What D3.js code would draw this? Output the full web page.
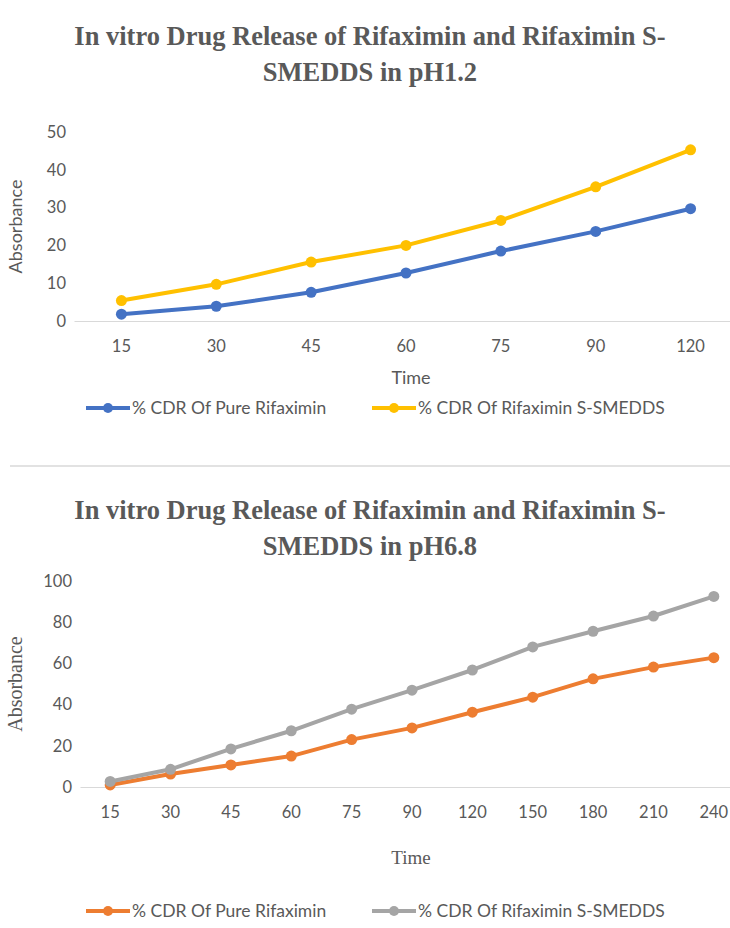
<!DOCTYPE html>
<meta charset="utf-8">
<style>
body { margin: 0; background: #fff; }
svg { display: block; }
.title { font-family: "Liberation Serif", "Times New Roman", serif; font-weight: bold; font-size: 26.5px; fill: #595959; }
.tick text { font-family: Lato, "Open Sans", sans-serif; font-size: 16.5px; fill: #595959; }
.sans { font-family: Lato, "Open Sans", sans-serif; fill: #595959; }
.serif { font-family: "Liberation Serif", "Times New Roman", serif; fill: #595959; }
</style>
<body>
<script src="https://cdn.jsdelivr.net/npm/d3@7"></script>
<script>

var width = 730,
    height = 928;

// pH 1.2 chart
var times1 = ["15", "30", "45", "60", "75", "90", "120"];
var pure1 = [1.8, 3.9, 7.6, 12.7, 18.5, 23.7, 29.7];
var smedds1 = [5.4, 9.7, 15.6, 20.0, 26.6, 35.5, 45.3];
var yTicks1 = [0, 10, 20, 30, 40, 50];

// pH 6.8 chart
var times2 = ["15", "30", "45", "60", "75", "90", "120", "150", "180", "210", "240"];
var pure2 = [1.0, 6.3, 10.7, 15.0, 23.0, 28.7, 36.3, 43.6, 52.5, 58.2, 62.8];
var smedds2 = [2.7, 8.6, 18.5, 27.3, 37.8, 47.0, 56.8, 68.0, 75.6, 83.0, 92.5];
var yTicks2 = [0, 20, 40, 60, 80, 100];

var seriesNames = ["% CDR Of Pure Rifaximin", "% CDR Of Rifaximin S-SMEDDS"];

var svg = d3.select("body").append("svg")
    .attr("width", width)
    .attr("height", height);

function drawChart(opt) {
  var g = svg.append("g");

  g.selectAll(".title-line")
    .data(opt.title)
    .enter().append("text")
    .attr("class", "title")
    .attr("x", 370)
    .attr("y", function(d, i) { return opt.titleY + i * 36; })
    .attr("text-anchor", "middle")
    .text(function(d) { return d; });

  var x = d3.scaleBand()
    .domain(opt.times)
    .range([opt.left, opt.right]);

  var y = d3.scaleLinear()
    .domain([0, opt.yMax])
    .range([opt.bottom, opt.top]);

  // y tick labels (no axis line)
  var yAxis = g.append("g")
    .attr("transform", "translate(" + (opt.left - 8) + ",0)")
    .call(d3.axisLeft(y).tickValues(opt.yTicks).tickSize(0).tickPadding(0));
  yAxis.select(".domain").remove();

  // x baseline + labels
  var xAxis = g.append("g")
    .attr("transform", "translate(0," + opt.bottom + ")")
    .call(d3.axisBottom(x).tickSize(0).tickPadding(19));
  xAxis.select(".domain").attr("stroke", "#d9d9d9").attr("stroke-width", 1.2);

  g.append("text")
    .attr("class", opt.labelClass)
    .attr("x", 411)
    .attr("y", opt.bottom + opt.timeDy)
    .attr("text-anchor", "middle")
    .style("font-size", opt.labelSize + "px")
    .text("Time");

  g.append("text")
    .attr("class", opt.labelClass)
    .attr("transform", "translate(" + opt.yTitleX + "," + ((opt.top + opt.bottom) / 2) + ")rotate(-90)")
    .attr("text-anchor", "middle")
    .style("font-size", opt.yTitleSize + "px")
    .text("Absorbance");

  var line = d3.line()
    .x(function(d, i) { return x(opt.times[i]) + x.bandwidth() / 2; })
    .y(function(d) { return y(d); });

  [opt.pure, opt.smedds].forEach(function(vals, k) {
    var col = opt.colors[k];
    g.append("path")
      .datum(vals)
      .attr("fill", "none")
      .attr("stroke", col)
      .attr("stroke-width", 4)
      .attr("stroke-linejoin", "round")
      .attr("d", line);
    g.selectAll(".pt" + k)
      .data(vals)
      .enter().append("circle")
      .attr("cx", function(d, i) { return x(opt.times[i]) + x.bandwidth() / 2; })
      .attr("cy", function(d) { return y(d); })
      .attr("r", 5.5)
      .attr("fill", col);
  });

  // legend
  var legX = [86, 372];
  seriesNames.forEach(function(name, k) {
    var lg = g.append("g").attr("transform", "translate(" + legX[k] + "," + opt.legendY + ")");
    lg.append("line")
      .attr("x1", 0).attr("x2", 44)
      .attr("stroke", opt.colors[k]).attr("stroke-width", 4);
    lg.append("circle").attr("cx", 22).attr("r", 5).attr("fill", opt.colors[k]);
    lg.append("text")
      .attr("class", "sans")
      .attr("x", 46)
      .attr("dy", "0.35em")
      .style("font-size", "17.5px")
      .text(name);
  });
}

drawChart({
  title: ["In vitro Drug Release of Rifaximin and Rifaximin S-", "SMEDDS in pH1.2"],
  titleY: 45,
  times: times1, pure: pure1, smedds: smedds1,
  yMax: 50, yTicks: yTicks1,
  left: 74, right: 738, top: 132, bottom: 321,
  colors: ["#4472C4", "#FFC000"],
  labelClass: "sans", labelSize: 18, yTitleSize: 18, timeDy: 63, yTitleX: 22,
  legendY: 408
});

// separator between the two charts
svg.append("line")
  .attr("x1", 10).attr("x2", width)
  .attr("y1", 466).attr("y2", 466)
  .attr("stroke", "#d9d9d9").attr("stroke-width", 1.5);

drawChart({
  title: ["In vitro Drug Release of Rifaximin and Rifaximin S-", "SMEDDS in pH6.8"],
  titleY: 519,
  times: times2, pure: pure2, smedds: smedds2,
  yMax: 100, yTicks: yTicks2,
  left: 80, right: 744, top: 581, bottom: 787,
  colors: ["#ED7D31", "#A5A5A5"],
  labelClass: "serif", labelSize: 19, yTitleSize: 20, timeDy: 77, yTitleX: 22,
  legendY: 911
});

</script>
